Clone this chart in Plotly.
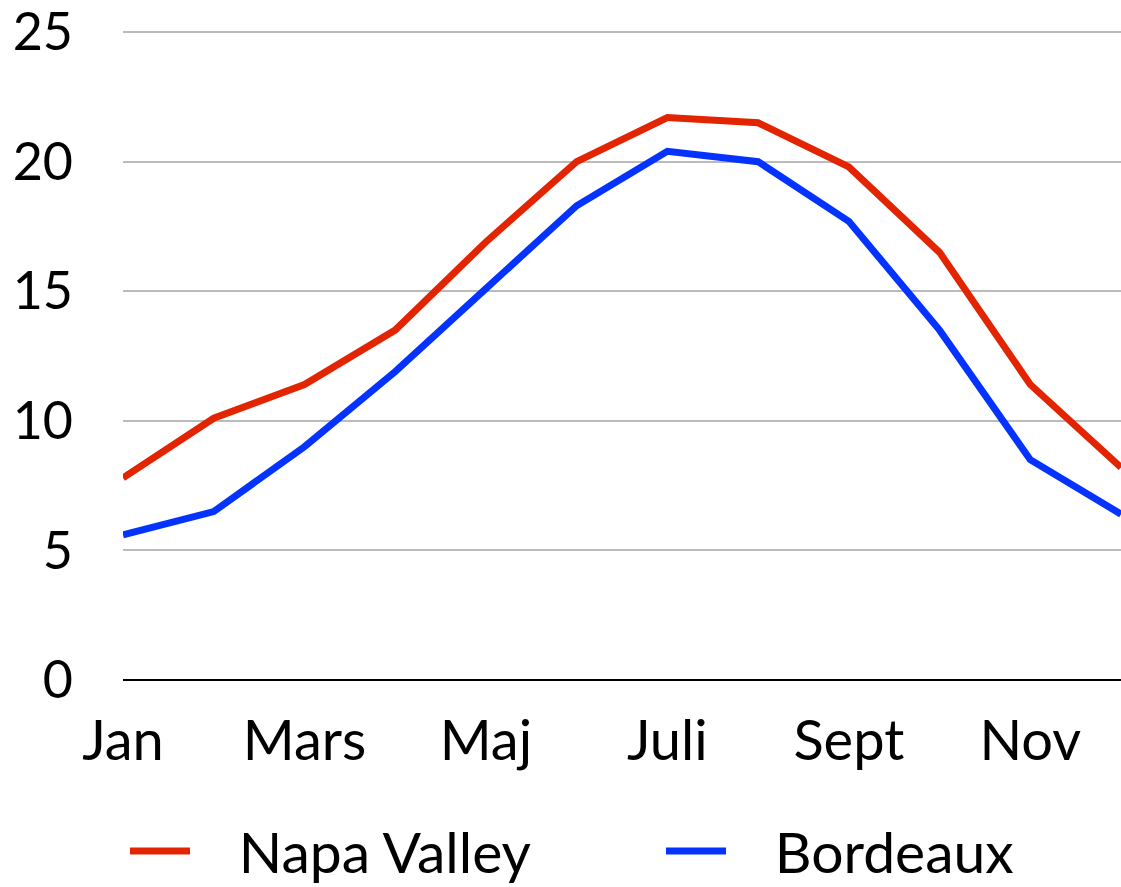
import plotly.graph_objects as go

months = ["Jan", "Feb", "Mars", "April", "Maj", "Juni", "Juli", "Aug", "Sept", "Okt", "Nov", "Dec"]
tick_labels = ["Jan", "Mars", "Maj", "Juli", "Sept", "Nov"]
napa_valley = [7.8, 10.1, 11.4, 13.5, 16.9, 20.0, 21.7, 21.5, 19.8, 16.5, 11.4, 8.2]
bordeaux = [5.6, 6.5, 9.0, 11.9, 15.1, 18.3, 20.4, 20.0, 17.7, 13.5, 8.5, 6.4]
series_names = ["Napa Valley", "Bordeaux"]

FONT = "Lato"
PAD = "\u00a0\u00a0\u00a0"

fig = go.Figure()
fig.add_trace(go.Scatter(x=months, y=napa_valley, mode="lines", name=PAD + series_names[0],
                         line=dict(color="#E32400", width=7), legendwidth=461))
fig.add_trace(go.Scatter(x=months, y=bordeaux, mode="lines", name=PAD + series_names[1],
                         line=dict(color="#0433FF", width=7)))

fig.update_layout(
    width=1121, height=887,
    margin=dict(l=123, r=0, t=30, b=207, autoexpand=False),
    paper_bgcolor="white", plot_bgcolor="white",
    font=dict(family=FONT, color="black", size=56),
    showlegend=True,
    legend=dict(orientation="h", x=0.002, xanchor="left", y=-0.196, yanchor="top",
                font=dict(size=57), itemwidth=60, traceorder="normal"),
    xaxis=dict(type="category", range=[0, 11], tickmode="array", tickvals=tick_labels,
               ticktext=tick_labels, showgrid=False, showline=False, zeroline=False,
               ticks="", ticklabelstandoff=23, tickfont=dict(size=56), automargin=False),
    yaxis=dict(range=[0, 25.08], tickvals=[0, 5, 10, 15, 20, 25], showgrid=True,
               gridcolor="#BBBBBB", gridwidth=2, zeroline=True, zerolinecolor="black",
               zerolinewidth=2, showline=False, ticks="", ticklabelstandoff=49,
               tickfont=dict(size=52), automargin=False, ticklabeloverflow="allow"),
)

fig.write_html("out.html", config={"displayModeBar": False},
               post_script="document.body.style.margin='0';document.body.style.overflow='hidden';")
